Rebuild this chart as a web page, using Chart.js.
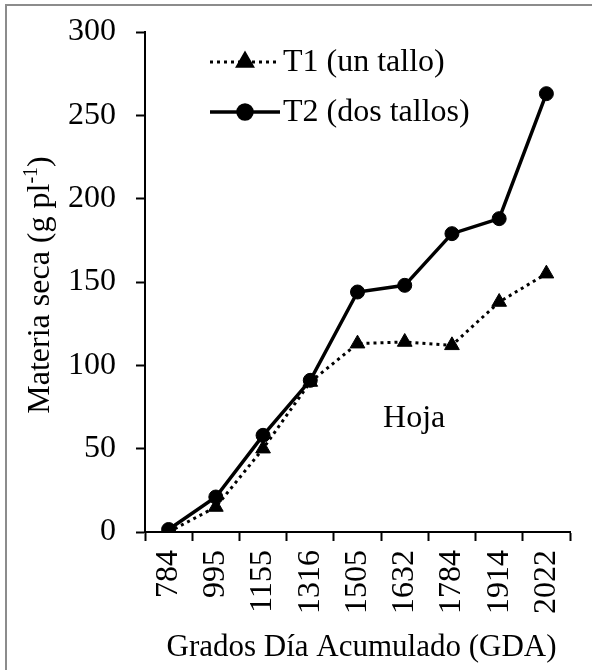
<!DOCTYPE html>
<html>
<head>
<meta charset="utf-8">
<script src="https://cdn.jsdelivr.net/npm/chart.js@4.4.1/dist/chart.umd.min.js"></script>
<style>
  html, body { margin: 0; padding: 0; background: #fff; }
  #wrap { position: relative; width: 592px; height: 670px; }
  #frame { position: absolute; left: 5px; top: 4px; width: 600px; height: 700px;
           border-left: 2px solid #8c8c8c; border-top: 2px solid #8c8c8c; }
  canvas { position: absolute; left: 0; top: 0; }
</style>
</head>
<body>
<div id="wrap">
  <div id="frame"></div>
  <canvas id="chart" width="592" height="670"></canvas>
</div>
<script>
const categories = ['784', '995', '1155', '1316', '1505', '1632', '1784', '1914', '2022'];
const t1Values = [0, 15, 50, 90, 113, 114, 112, 138, 155];
const t2Values = [1.5, 21, 58, 91, 144, 148, 179, 188, 263];
const seriesNames = ['T1 (un tallo)', 'T2 (dos tallos)'];
const yTicks = [0, 50, 100, 150, 200, 250, 300];

const FONT = "'Liberation Serif', 'Times New Roman', serif";
const SIZE = 32;

// legend drawn by hand: line, marker in the middle, then the text
const legendPlugin = {
    id: 'lineLegend',
    afterDraw(chart) {
        const ctx = chart.ctx;
        const rows = [62, 112];
        chart.data.datasets.forEach((ds, i) => {
            const y = rows[i];
            ctx.save();
            ctx.strokeStyle = ds.borderColor;
            ctx.lineWidth = ds.borderWidth;
            ctx.setLineDash(ds.borderDash || []);
            ctx.beginPath();
            ctx.moveTo(210, y);
            ctx.lineTo(280, y);
            ctx.stroke();
            ctx.setLineDash([]);
            Chart.helpers.drawPoint(ctx, {
                pointStyle: ds.pointStyle,
                radius: ds.pointRadius,
                borderWidth: 1
            }, 245, y);
            ctx.fillStyle = '#000';
            ctx.font = SIZE + 'px ' + FONT;
            ctx.textBaseline = 'middle';
            ctx.textAlign = 'left';
            ctx.fillText(ds.label, 283, y + 1);
            ctx.restore();
        });
    }
};

// axis titles (y title needs a superscript) and the "Hoja" note
const titlesPlugin = {
    id: 'titles',
    afterDraw(chart) {
        const ctx = chart.ctx;
        const area = chart.chartArea;
        const xs = chart.scales.x;
        const ys = chart.scales.y;
        ctx.save();
        ctx.fillStyle = '#000';

        ctx.font = '31px ' + FONT;
        ctx.textAlign = 'center';
        ctx.textBaseline = 'alphabetic';
        ctx.fillText('Grados Día Acumulado (GDA)', (area.left + area.right) / 2 + 4, 656);

        ctx.font = SIZE + 'px ' + FONT;
        const note = xs.getPixelForValue(5.2);
        ctx.textBaseline = 'middle';
        ctx.fillText('Hoja', note, ys.getPixelForValue(68));

        // y title, rotated
        ctx.translate(49, (area.top + area.bottom) / 2 + 3);
        ctx.rotate(-Math.PI / 2);
        ctx.textBaseline = 'alphabetic';
        ctx.textAlign = 'left';
        const a = 'Materia seca (g pl', sup = '-1', b = ')';
        ctx.font = SIZE + 'px ' + FONT;
        const wa = ctx.measureText(a).width, wb = ctx.measureText(b).width;
        ctx.font = '20px ' + FONT;
        const ws = ctx.measureText(sup).width;
        let x = -(wa + ws + wb) / 2;
        ctx.font = SIZE + 'px ' + FONT;
        ctx.fillText(a, x, 0);
        x += wa;
        ctx.font = '20px ' + FONT;
        ctx.fillText(sup, x, -12);
        x += ws;
        ctx.font = SIZE + 'px ' + FONT;
        ctx.fillText(b, x, 0);
        ctx.restore();
    }
};

new Chart(document.getElementById('chart').getContext('2d'), {
    type: 'line',
    data: {
        labels: categories,
        datasets: [{
            label: seriesNames[0],
            data: t1Values,
            borderColor: '#000',
            backgroundColor: '#000',
            borderWidth: 3,
            borderDash: [3, 4],
            pointStyle: 'triangle',
            pointRadius: 8.5,
            pointBorderWidth: 1,
            tension: 0
        }, {
            label: seriesNames[1],
            data: t2Values,
            borderColor: '#000',
            backgroundColor: '#000',
            borderWidth: 3.5,
            pointStyle: 'circle',
            pointRadius: 7,
            pointBorderWidth: 1,
            tension: 0
        }]
    },
    options: {
        responsive: false,
        animation: false,
        layout: { padding: { top: 32, right: 22, left: 0, bottom: 0 } },
        plugins: {
            legend: { display: false },
            tooltip: { enabled: false }
        },
        scales: {
            x: {
                offset: true,
                grid: {
                    offset: true,
                    drawOnChartArea: false,
                    drawTicks: true,
                    tickLength: 9,
                    tickWidth: 2,
                    tickColor: '#000'
                },
                border: { display: true, color: '#000', width: 2 },
                ticks: {
                    color: '#000',
                    font: { family: FONT, size: SIZE },
                    minRotation: 90,
                    maxRotation: 90,
                    padding: 9
                },
                afterFit(scale) {
                    scale.height = 138;
                    scale.paddingLeft = 0;
                    scale.paddingRight = 0;
                }
            },
            y: {
                min: 0,
                max: 300,
                afterBuildTicks(scale) { scale.ticks = yTicks.map(v => ({ value: v })); },
                grid: {
                    drawOnChartArea: false,
                    tickLength: 9,
                    tickWidth: 2,
                    tickColor: '#000'
                },
                border: { display: true, color: '#000', width: 2 },
                ticks: {
                    color: '#000',
                    font: { family: FONT, size: SIZE },
                    padding: 20
                },
                afterFit(scale) {
                    scale.width = 145;
                    scale.paddingTop = 0;
                    scale.paddingBottom = 0;
                }
            }
        }
    },
    plugins: [legendPlugin, titlesPlugin]
});
</script>
</body>
</html>
